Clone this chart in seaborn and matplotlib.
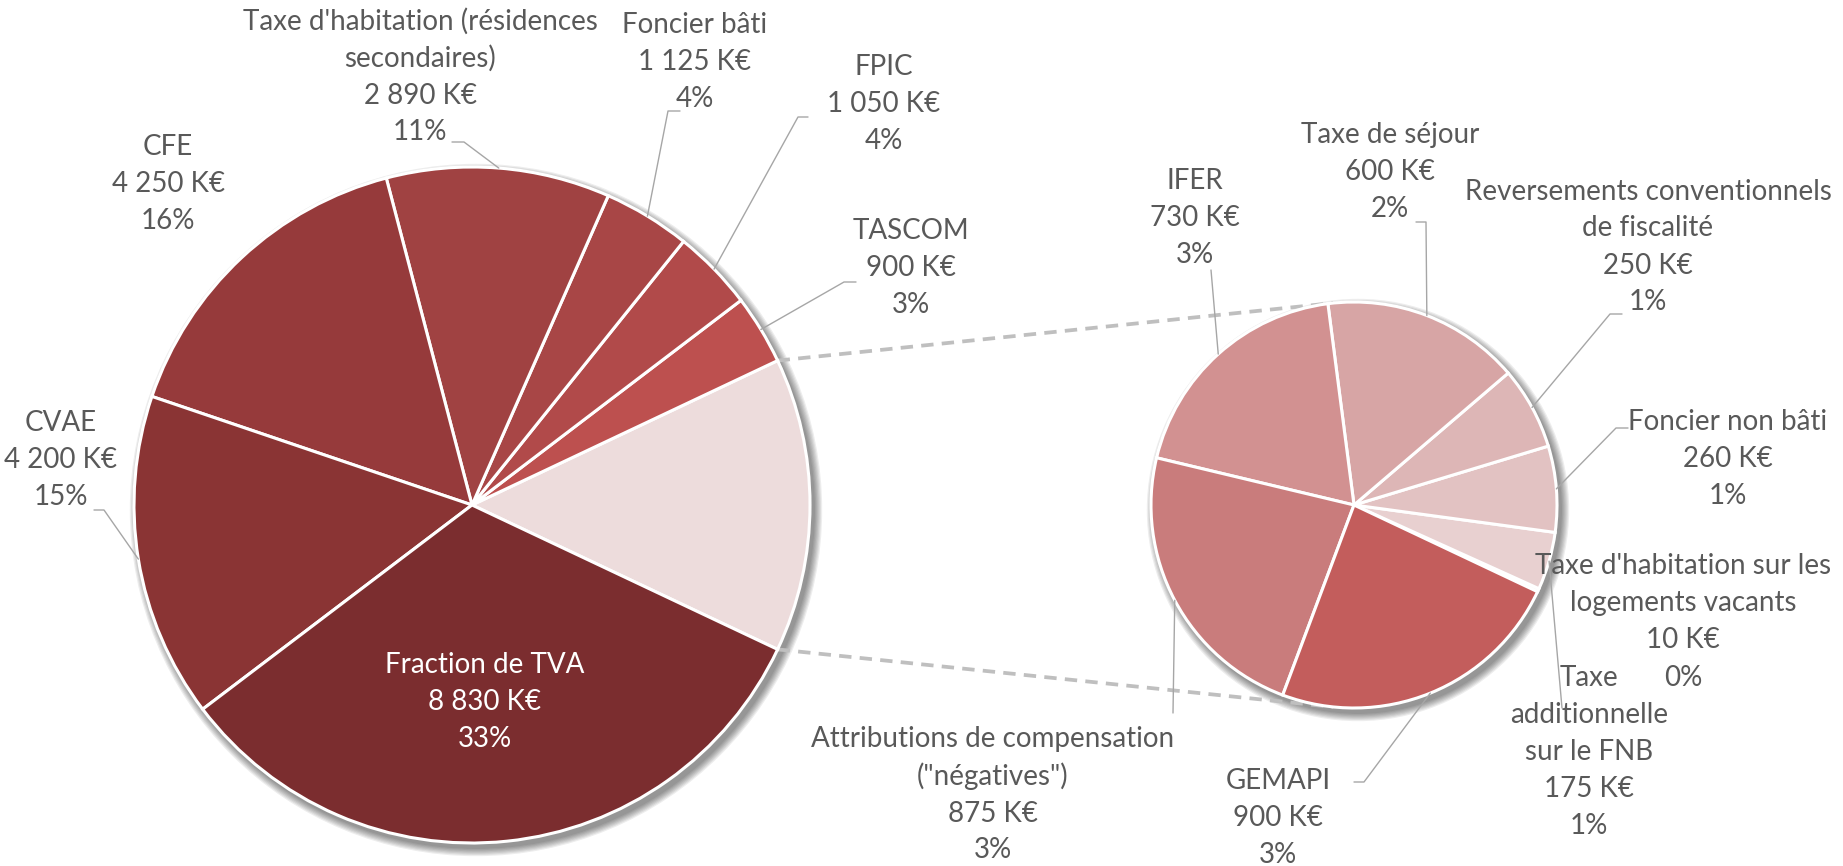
import matplotlib
matplotlib.use("Agg")
import matplotlib.pyplot as plt
import seaborn as sns
import numpy as np
from matplotlib.patches import Circle

# Main pie, counter-clockwise after the split slice (which gathers the sub pie)
main_labels = ["TASCOM", "FPIC", "Foncier bâti",
               "Taxe d'habitation (résidences\nsecondaires)", "CFE", "CVAE",
               "Fraction de TVA"]
main_values = [900, 1050, 1125, 2890, 4250, 4200, 8830]
main_pcts = ["3%", "4%", "4%", "11%", "16%", "15%", "33%"]
main_colors = ["#BD504F", "#B14A4A", "#A84646", "#A04242", "#963A3B",
               "#8A3434", "#7B2D2F"]
other_color = "#EDDCDC"

# Secondary pie, counter-clockwise
sub_labels = ["Taxe d'habitation sur les\nlogements vacants",
              "Taxe\nadditionnelle\nsur le FNB", "Foncier non bâti",
              "Reversements conventionnels\nde fiscalité", "Taxe de séjour",
              "IFER", "Attributions de compensation\n(\"négatives\")", "GEMAPI"]
sub_values = [10, 175, 260, 250, 600, 730, 875, 900]
sub_pcts = ["0%", "1%", "1%", "1%", "2%", "3%", "3%", "3%"]
sub_colors = ["#F0E2E2", "#E8D0D0", "#E2C2C2", "#DDB6B6", "#D7A5A5",
              "#D29191", "#C97C7C", "#C35D5C"]

W, H = 1843, 866
TXT = "#595959"
LEAD = "#A6A6A6"
PITCH = 37  # px between label lines

# label layout in pixels from the top-left: text centre, leader anchor, tick
main_layout = [((911, 268), (856, 282), -12),
               ((884, 104), (808, 117), -10),
               ((695, 62), (680, 111), -12),
               ((420, 77), (452, 142), 12),
               ((168, 184), None, 0),
               ((61, 460), (94, 510), 10),
               ((485, 702), None, 0)]
sub_layout = [((1683, 622), None, 0),
              ((1589, 752), (1562, 708), 0),
              ((1728, 459), (1628, 428), -12),
              ((1648, 247), (1622, 314), -12),
              ((1390, 172), (1416, 222), 10),
              ((1195, 218), (1211, 270), 0),
              ((993, 795), (1173, 713), 0),
              ((1278, 818), (1354, 782), 10)]


def fmt(v):
    return f"{v:,}".replace(",", " ") + " K€"


sns.set_theme(style="white")
plt.rcParams['font.family'] = ['Lato', 'DejaVu Sans']

fig = plt.figure(figsize=(W / 100, H / 100), dpi=100)
ax = fig.add_axes([0, 0, 1, 1])

main_c = (472, H - 505)
main_r = 338
sub_c = (1354, H - 505)
sub_r = 203

total = sum(main_values) + sum(sub_values)
start = -180 * sum(sub_values) / total

# soft drop shadows
for c, r in [(main_c, main_r), (sub_c, sub_r)]:
    for i in range(7):
        ax.add_patch(Circle((c[0] + 4, c[1] - 5), r + 1 + i * 1.2,
                            color="black", alpha=0.07, lw=0, zorder=0.2))

wp = dict(edgecolor="white", linewidth=2.2)
main_wedges, _ = ax.pie([sum(sub_values)] + main_values,
                        colors=[other_color] + main_colors,
                        startangle=start, counterclock=True, center=main_c,
                        radius=main_r, wedgeprops=wp, frame=True)
sub_wedges, _ = ax.pie(sub_values, colors=sub_colors, startangle=start,
                       counterclock=True, center=sub_c, radius=sub_r,
                       wedgeprops=wp, frame=True)


def tangent(p, c, r, upper):
    d = np.hypot(p[0] - c[0], p[1] - c[1])
    base = np.arctan2(p[1] - c[1], p[0] - c[0])
    a = np.arccos(r / d)
    pts = [(c[0] + r * np.cos(base + s * a), c[1] + r * np.sin(base + s * a))
           for s in (1, -1)]
    pts.sort(key=lambda q: q[1])
    return pts[1] if upper else pts[0]


# dashed connectors between the split slice and the sub pie
ow = main_wedges[0]
for ang, upper in [(ow.theta2, True), (ow.theta1, False)]:
    p = (main_c[0] + main_r * np.cos(np.radians(ang)),
         main_c[1] + main_r * np.sin(np.radians(ang)))
    q = tangent(p, sub_c, sub_r, upper)
    ax.plot([p[0], q[0]], [p[1], q[1]], color="#BFBFBF", lw=2.7,
            ls=(0, (3.3, 2.2)), zorder=0.5, solid_capstyle="butt")


def draw_labels(wedges, c, r, labels, values, pcts, layout, colors_txt):
    for w, lab, v, pc, (pos, anchor, tick), col in zip(
            wedges, labels, values, pcts, layout, colors_txt):
        lines = f"{lab}\n{fmt(v)}\n{pc}".split("\n")
        n = len(lines)
        # one text per line, so the stacked lines keep Excel's spacing
        for i, line in enumerate(lines):
            y = pos[1] + (i - (n - 1) / 2) * PITCH
            ax.text(pos[0], H - y, line, ha="center", va="center",
                    fontsize=20, color=col, zorder=5)
        if anchor is None:
            continue
        mid = np.radians((w.theta1 + w.theta2) / 2)
        edge = (c[0] + r * np.cos(mid), c[1] + r * np.sin(mid))
        xs = [anchor[0], anchor[0] + tick, edge[0]]
        ys = [H - anchor[1], H - anchor[1], edge[1]]
        ax.plot(xs, ys, color=LEAD, lw=1, zorder=3)


draw_labels(main_wedges[1:], main_c, main_r, main_labels, main_values,
            main_pcts, main_layout, [TXT] * 6 + ["white"])
draw_labels(sub_wedges, sub_c, sub_r, sub_labels, sub_values, sub_pcts,
            sub_layout, [TXT] * len(sub_labels))

ax.set_xlim(0, W)
ax.set_ylim(0, H)
ax.set_aspect("equal")
ax.axis("off")

fig.savefig("out.png", dpi=100, facecolor="white")
